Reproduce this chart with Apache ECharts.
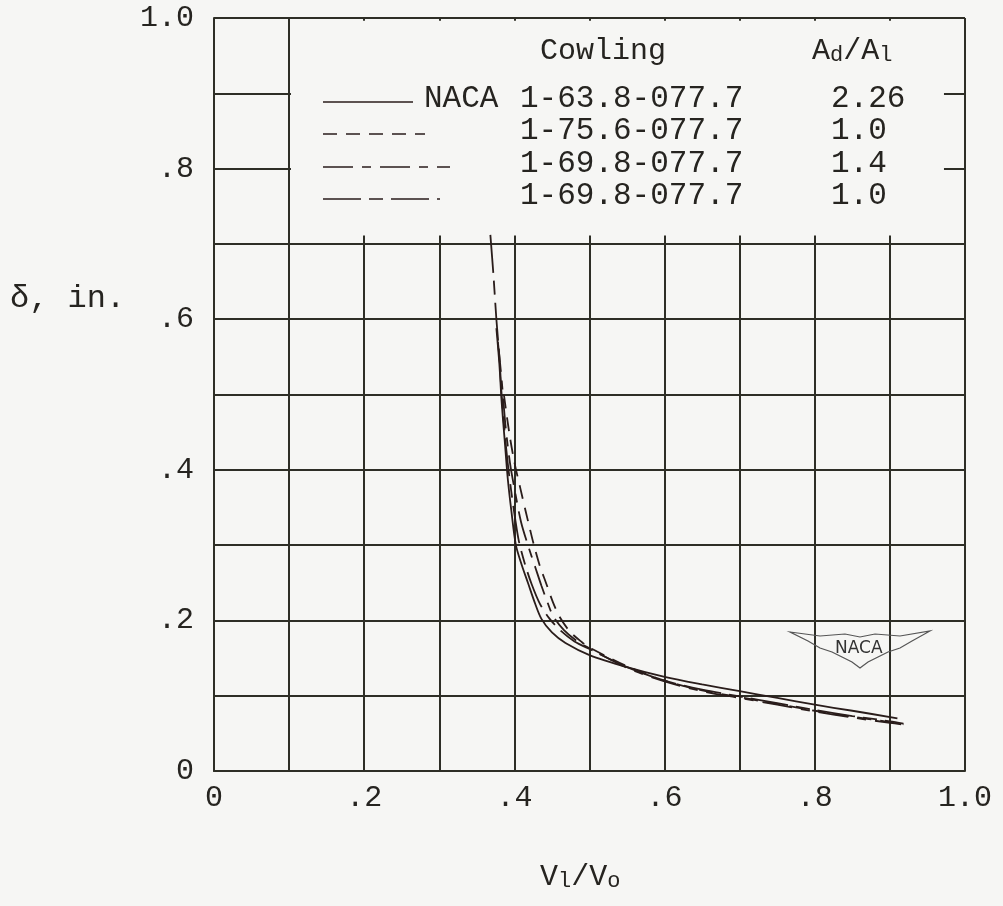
<!DOCTYPE html>
<html>
<head>
<meta charset="utf-8">
<script src="https://cdn.jsdelivr.net/npm/echarts@6/dist/echarts.min.js"></script>
<style>
html,body{margin:0;padding:0;background:#f6f6f4;}
#c{width:1003px;height:906px;}
</style>
</head>
<body>
<div id="c"></div>
<script>
// ---- data ----
const cowlings = ['1-63.8-077.7', '1-75.6-077.7', '1-69.8-077.7', '1-69.8-077.7'];
const areaRatios = ['2.26', '1.0', '1.4', '1.0'];
const tickLabels = { 0: '0', 2: '.2', 4: '.4', 6: '.6', 8: '.8', 10: '1.0' };

const s1 = [[0.376,0.588],[0.380,0.54],[0.383,0.49],[0.387,0.44],[0.391,0.39],[0.396,0.345],[0.402,0.30],[0.410,0.273],[0.418,0.25],[0.427,0.224],[0.436,0.202],[0.450,0.184],[0.468,0.170],[0.50,0.154],[0.55,0.138],[0.60,0.125],[0.65,0.115],[0.70,0.106],[0.75,0.097],[0.80,0.088],[0.85,0.080],[0.91,0.070]];
const s2 = [[0.386,0.50],[0.393,0.45],[0.400,0.41],[0.408,0.375],[0.415,0.345],[0.421,0.32],[0.426,0.30],[0.434,0.272],[0.442,0.25],[0.451,0.225],[0.460,0.205],[0.474,0.185],[0.49,0.171],[0.50,0.164],[0.55,0.139],[0.60,0.120],[0.65,0.107],[0.70,0.098],[0.75,0.089],[0.80,0.080],[0.85,0.072],[0.90,0.065],[0.918,0.062]];
const s3 = [[0.378,0.57],[0.383,0.52],[0.388,0.46],[0.394,0.41],[0.401,0.37],[0.409,0.33],[0.418,0.30],[0.428,0.27],[0.436,0.246],[0.444,0.224],[0.452,0.205],[0.466,0.187],[0.484,0.172],[0.50,0.163],[0.55,0.137],[0.60,0.119],[0.65,0.106],[0.70,0.097],[0.75,0.088],[0.80,0.079],[0.85,0.071],[0.90,0.064],[0.915,0.062]];
const s4 = [[0.368,0.712],[0.372,0.66],[0.376,0.60],[0.380,0.55],[0.383,0.50],[0.387,0.45],[0.391,0.41],[0.396,0.37],[0.401,0.335],[0.406,0.305],[0.414,0.275],[0.423,0.248],[0.434,0.222],[0.447,0.202],[0.462,0.186],[0.48,0.172],[0.50,0.162],[0.55,0.138],[0.60,0.120],[0.65,0.108],[0.70,0.099],[0.75,0.090],[0.80,0.081],[0.85,0.073],[0.90,0.066],[0.918,0.063]];
const seriesData = [s1, s2, s3, s4];
// blank box behind the key (data coords)
const keyBox = [[0.1025, 0.711], [0.972, 0.9965]];

// ---- styles ----
const FONT = '"Liberation Mono", "DejaVu Sans Mono", monospace';
const INK = '#262420';
const GRIDC = '#2e2e26';
const BG = '#f6f6f4';
const dashes = ['solid', [14, 9], [30, 9, 9, 9], [38, 8, 14, 8]];
const legendLen = [90, 102, 127, 117];
const rowY = [100, 132, 165, 197];

function fmt(v) {
  const r = Math.round(v * 10);
  return tickLabels[r] !== undefined ? tickLabels[r] : '';
}

const chart = echarts.init(document.getElementById('c'), null, { renderer: 'canvas' });

const series = seriesData.map((d, i) => ({
  type: 'line',
  data: d,
  smooth: 0.3,
  showSymbol: false,
  z: 5,
  lineStyle: { color: '#2a1d1b', width: 1.8, type: dashes[i] },
  silent: true
}));
series.unshift({
  type: 'line',
  data: [],
  z: 1,
  silent: true,
  markArea: {
    silent: true,
    itemStyle: { color: BG, opacity: 1, borderWidth: 0 },
    data: [[{ coord: keyBox[0] }, { coord: keyBox[1] }]]
  }
});

const graphics = [];
const Z = 100;
const subRich = { s: { fontFamily: FONT, fontSize: 22, fill: INK, color: INK, verticalAlign: 'bottom', lineHeight: 18 } };
graphics.push({ type: 'text', z: Z, left: 540, top: 36, style: { text: 'Cowling', font: '30px ' + FONT, fill: INK } });
graphics.push({ type: 'text', z: Z, left: 812, top: 36, style: { text: 'A{s|d}/A{s|l}', font: '30px ' + FONT, fill: INK, rich: subRich } });
cowlings.forEach((name, i) => {
  const y = rowY[i];
  graphics.push({ type: 'line', z: Z, shape: { x1: 323, y1: y + 2, x2: 323 + legendLen[i], y2: y + 2 }, style: { stroke: '#2a1d1b', lineWidth: 1.6, lineDash: dashes[i] === 'solid' ? null : dashes[i] } });
  graphics.push({ type: 'text', z: Z, left: 520, top: y - 17, style: { text: name, font: '31px ' + FONT, fill: INK } });
  graphics.push({ type: 'text', z: Z, left: 831, top: y - 17, style: { text: areaRatios[i], font: '31px ' + FONT, fill: INK } });
});
graphics.push({ type: 'text', z: Z, left: 424, top: rowY[0] - 17, style: { text: 'NACA', font: '31px ' + FONT, fill: INK } });
// axis titles
graphics.push({ type: 'text', z: Z, left: 10, top: 283, style: { text: 'δ, in.', font: '32px ' + FONT, fill: INK } });
graphics.push({ type: 'text', z: Z, left: 540, top: 862, style: { text: 'V{s|l}/V{s|o}', font: '30px ' + FONT, fill: INK, rich: subRich } });
// NACA wing logo
graphics.push({
  type: 'polygon', z: Z,
  shape: { points: [[790,632],[820,636],[845,634],[860,637],[875,634],[900,636],[930,631],[912,641],[900,648],[888,652],[878,657],[868,662],[860,668],[852,662],[842,657],[832,652],[820,648],[808,641]] },
  style: { fill: null, stroke: '#555', lineWidth: 1.2 }
});
graphics.push({ type: 'text', z: Z, left: 835, top: 640, style: { text: 'NACA', font: '17px "DejaVu Sans", sans-serif', fill: '#333' } });

chart.setOption({
  backgroundColor: BG,
  animation: false,
  grid: { left: 214, right: 38, top: 18, bottom: 135, containLabel: false },
  xAxis: {
    type: 'value', min: 0, max: 1, interval: 0.1,
    axisLine: { show: true, lineStyle: { color: GRIDC, width: 2 } },
    axisTick: { show: false },
    splitLine: { show: true, lineStyle: { color: GRIDC, width: 2 } },
    axisLabel: { formatter: fmt, fontFamily: FONT, fontSize: 30, color: INK, margin: 12, showMinLabel: true, showMaxLabel: true }
  },
  yAxis: {
    type: 'value', min: 0, max: 1, interval: 0.1,
    axisLine: { show: true, lineStyle: { color: GRIDC, width: 2 } },
    axisTick: { show: false },
    splitLine: { show: true, lineStyle: { color: GRIDC, width: 2 } },
    axisLabel: { formatter: fmt, fontFamily: FONT, fontSize: 30, color: INK, margin: 20, showMinLabel: true, showMaxLabel: true }
  },
  series: series,
  graphic: graphics
});
</script>
</body>
</html>
